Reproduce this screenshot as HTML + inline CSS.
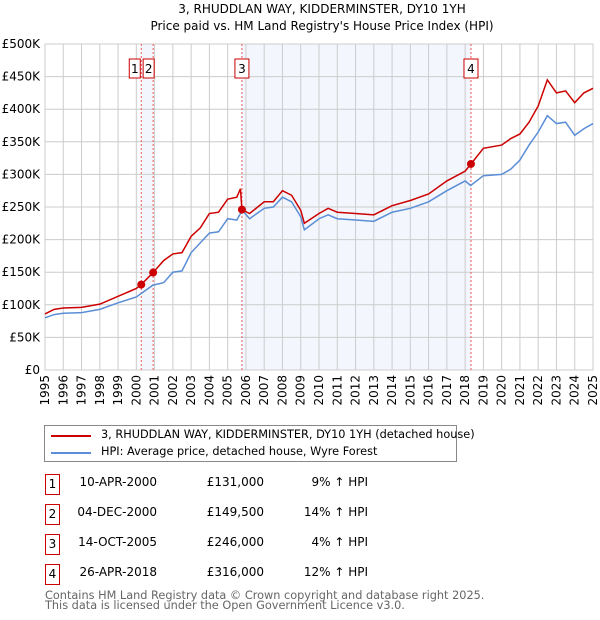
<!DOCTYPE html>
<html><head><meta charset="utf-8">
<style>
body{margin:0;width:600px;height:620px;background:#fff;font-family:"DejaVu Sans","Liberation Sans",sans-serif;position:relative;overflow:hidden}
.abs{position:absolute;white-space:nowrap}
.tbl{font-size:12px;color:#000}
.box{position:absolute;width:13px;height:19px;border:1px solid #c00;font-size:12px;text-align:center;line-height:19px}
</style></head><body>
<svg class="abs" style="left:0;top:0" width="600" height="410">
<text x="322" y="13" text-anchor="middle" font-size="12" font-family="DejaVu Sans,Liberation Sans,sans-serif">3, RHUDDLAN WAY, KIDDERMINSTER, DY10 1YH</text>
<text x="322" y="30" text-anchor="middle" font-size="12" font-family="DejaVu Sans,Liberation Sans,sans-serif">Price paid vs. HM Land Registry's House Price Index (HPI)</text>
<g id="g"></g>
</svg>
<div class="abs" style="left:44px;top:425px;width:411px;height:35px;border:1px solid #888">
 <div class="abs" style="left:6px;top:9px;width:40px;height:2px;background:#c00"></div>
 <div class="abs" style="left:56px;top:2px;font-size:11.3px">3, RHUDDLAN WAY, KIDDERMINSTER, DY10 1YH (detached house)</div>
 <div class="abs" style="left:6px;top:26px;width:40px;height:2px;background:#5b8ed6"></div>
 <div class="abs" style="left:56px;top:19px;font-size:11.3px">HPI: Average price, detached house, Wyre Forest</div>
</div>
<div id="tbl"></div>
<div class="abs" style="left:45px;top:591px;font-size:11.3px;color:#666;line-height:10px">Contains HM Land Registry data © Crown copyright and database right 2025.<br>This data is licensed under the Open Government Licence v3.0.</div>
<script>
const hpiYears=[1995,1995.5,1996,1997,1998,1999,2000,2000.9,2001.5,2002,2002.5,2003,2003.5,2004,2004.5,2005,2005.5,2005.8,2006.2,2007,2007.5,2008,2008.5,2009,2009.2,2010,2010.5,2011,2012,2013,2014,2015,2016,2017,2018,2018.3,2019,2020,2020.5,2021,2021.5,2022,2022.5,2023,2023.5,2024,2024.5,2025];
const hpiValues=[80,85,87,88,93,103,112,130,134,150,152,180,195,210,212,232,230,245,232,248,250,265,258,235,215,232,238,232,230,228,242,248,258,275,290,283,298,300,308,322,345,365,390,378,380,360,370,378];
const redYears=[1995,1995.5,1996,1997,1998,1999,2000,2000.27,2000.92,2001.5,2002,2002.5,2003,2003.5,2004,2004.5,2005,2005.5,2005.7,2005.78,2006.2,2007,2007.5,2008,2008.5,2009,2009.2,2010,2010.5,2011,2012,2013,2014,2015,2016,2017,2018,2018.32,2019,2020,2020.5,2021,2021.5,2022,2022.5,2023,2023.5,2024,2024.5,2025];
const redValues=[86,93,95,96,101,113,125,131,149.5,168,178,180,205,218,240,242,262,265,278,246,240,258,258,275,268,245,225,240,248,242,240,238,252,260,270,290,305,316,340,345,355,362,380,405,445,425,428,410,425,432];
const saleLabels=["1","2","3","4"];
const saleDates=[2000.27,2000.92,2005.78,2018.32];
const salePrices=[131,149.5,246,316];
const saleDateText=["10-APR-2000","04-DEC-2000","14-OCT-2005","26-APR-2018"];
const salePriceText=["£131,000","£149,500","£246,000","£316,000"];
const saleHpiText=["9% ↑ HPI","14% ↑ HPI","4% ↑ HPI","12% ↑ HPI"];
const yTicks=[0,50,100,150,200,250,300,350,400,450,500];
const yTickLabels=["£0","£50K","£100K","£150K","£200K","£250K","£300K","£350K","£400K","£450K","£500K"];
const xTicks=[1995,1996,1997,1998,1999,2000,2001,2002,2003,2004,2005,2006,2007,2008,2009,2010,2011,2012,2013,2014,2015,2016,2017,2018,2019,2020,2021,2022,2023,2024,2025];

const X0=45,X1=593,Y0=370,Y1=44;
const xs=v=>X0+(v-1995)/30*(X1-X0);
const ys=v=>Y0-v/500*(Y0-Y1);
const NS="http://www.w3.org/2000/svg";
const g=document.getElementById('g');
function mk(t,a,name){const e=document.createElementNS(NS,t);for(const k in a)e.setAttribute(k,a[k]);


g.appendChild(e);return e;}
for(let i=0;i<saleDates.length;i+=2){mk('rect',{x:xs(saleDates[i]),y:Y1,width:xs(saleDates[i+1])-xs(saleDates[i]),height:Y0-Y1,fill:'#f3f6fd'},'sale-band');}
xTicks.forEach(t=>{mk('line',{x1:xs(t),x2:xs(t),y1:Y1,y2:Y0,stroke:'#ccc','stroke-width':1},'x-grid');
 const tx=mk('text',{x:0,y:0,'text-anchor':'end','font-size':12,'font-family':'DejaVu Sans,sans-serif',transform:'translate('+(xs(t)+4)+',375) rotate(-90)'},'x-tick-label');tx.textContent=t;});
yTicks.forEach((t,i)=>{mk('line',{x1:X0,x2:X1,y1:ys(t),y2:ys(t),stroke:'#ccc','stroke-width':1},'y-grid');
 const tx=mk('text',{x:40,y:ys(t)+4,'text-anchor':'end','font-size':12,'font-family':'DejaVu Sans,sans-serif'},'y-tick-label');tx.textContent=yTickLabels[i];});
mk('rect',{x:X0,y:Y1,width:X1-X0,height:Y0-Y1,fill:'none',stroke:'#ccc'},'plot-frame');
saleDates.forEach(d=>mk('line',{x1:xs(d),x2:xs(d),y1:Y1,y2:Y0,stroke:'#e55','stroke-width':1,'stroke-dasharray':'2,2'},'sale-line'));
mk('polyline',{points:hpiYears.map((y,i)=>xs(y)+','+ys(hpiValues[i])).join(' '),fill:'none',stroke:'#5b8ed6','stroke-width':1.5},'hpi-line');
mk('polyline',{points:redYears.map((y,i)=>xs(y)+','+ys(redValues[i])).join(' '),fill:'none',stroke:'#c00','stroke-width':1.5},'price-line');
saleDates.forEach((d,i)=>{mk('circle',{cx:xs(d),cy:ys(salePrices[i]),r:4,fill:'#c00'},'sale-marker');
 const bx=i==0?xs(d)-12:(i==1?xs(d)-10:xs(d)-7);
 mk('rect',{x:bx,y:59,width:i<2?11:14,height:19,fill:'#fff',stroke:'#c00'},'sale-label-box');
 const tx=mk('text',{x:bx+(i<2?5.5:7),y:73,'text-anchor':'middle','font-size':12,'font-family':'DejaVu Sans,sans-serif'},'sale-label');tx.textContent=saleLabels[i];});
const tb=document.getElementById('tbl');
saleLabels.forEach((l,i)=>{const top=475+i*30;
 const b=document.createElement('div');b.className='box';b.style.left='45px';b.style.top=(top-1)+'px';b.textContent=l;
 
 tb.appendChild(b);
 [[157,saleDateText[i],'table-date'],[264,salePriceText[i],'table-price'],[368,saleHpiText[i],'table-hpi']].forEach(c=>{
  const d=document.createElement('div');d.className='abs tbl';d.style.top=top+'px';
  d.style.right=(600-c[0])+'px';
  d.textContent=c[1];
  
  tb.appendChild(d);});
});
</script>
</body></html>
